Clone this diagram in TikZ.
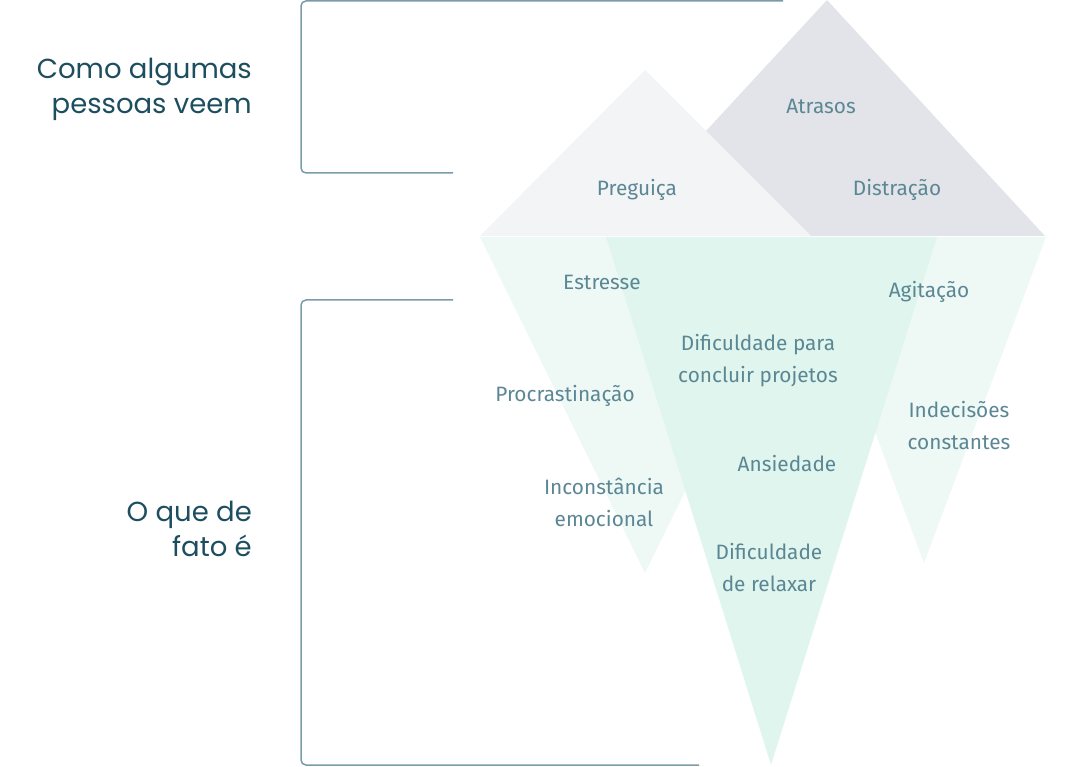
\documentclass[tikz,border=0pt]{standalone}
\usepackage{fontspec}
\setmainfont{Fira Sans}
\newfontfamily\headfont{Poppins}
\definecolor{lightgray}{HTML}{F3F4F6}
\definecolor{darkgray}{HTML}{E3E4E9}
\definecolor{palegreen}{HTML}{EEF9F5}
\definecolor{midgreen}{HTML}{DFF5EE}
\definecolor{bodytext}{HTML}{5B8795}
\definecolor{headtext}{HTML}{1D4E5F}
\definecolor{bracketcol}{HTML}{7A9CA8}
\tikzset{
  lbl/.style={text=bodytext, font=\fontsize{20.8}{32}\selectfont, align=center, inner sep=0pt},
  head/.style={text=headtext, font=\headfont\fontsize{27.5}{35}\selectfont, align=right, inner sep=0pt, anchor=east},
  bracket/.style={draw=bracketcol, line width=1.5pt, rounded corners=5pt},
}
\begin{document}
\begin{tikzpicture}[x=1pt,y=-1pt]
\useasboundingbox (0,0) rectangle (1080,767);
% brackets
\draw[bracket] (783,1) -- (301,1) -- (301,173) -- (453,173);
\draw[bracket] (453,300) -- (301,300) -- (301,765) -- (699,765);
% above water
\fill[darkgray] (827,0) -- (1045,236) -- (609,236) -- cycle;
\fill[lightgray] (645,70) -- (811,236) -- (480,236) -- cycle;
% below water
\fill[palegreen] (480,237) -- (810,237) -- (645,573) -- cycle;
\fill[palegreen] (802,237) -- (1046,237) -- (924,563) -- cycle;
\fill[midgreen] (606,237) -- (937,237) -- (771,765) -- cycle;
% labels
\node[lbl] (atrasos) at (821,106) {Atrasos};
\node[lbl] (preguica) at (637,190) {Preguiça};
\node[lbl] (distracao) at (897,190) {Distração};
\node[lbl] (estresse) at (602,282) {Estresse};
\node[lbl] (agitacao) at (929,292) {Agitação};
\node[lbl] (dificuldade) at (758,361) {Dificuldade para\\concluir projetos};
\node[lbl] (procrast) at (565,396) {Procrastinação};
\node[lbl] (indecisoes) at (959,426) {Indecisões\\constantes};
\node[lbl] (ansiedade) at (787,464) {Ansiedade};
\node[lbl] (inconstancia) at (604,502) {Inconstância\\emocional};
\node[lbl] (relaxar) at (769,568) {Dificuldade\\de relaxar};
\node[head] (como) at (252,89) {Como algumas\\pessoas veem};
\node[head] (fato) at (252,529) {O que de\\fato é};
\end{tikzpicture}
\end{document}
